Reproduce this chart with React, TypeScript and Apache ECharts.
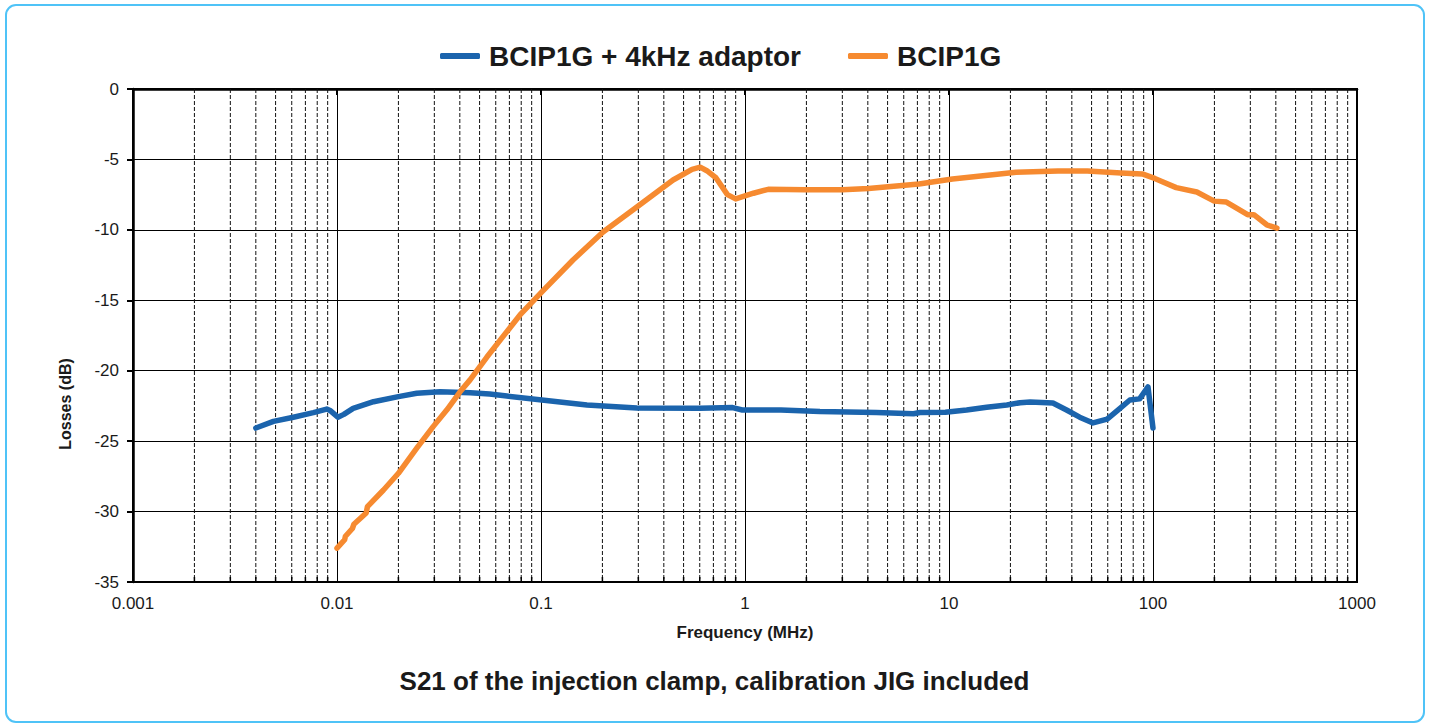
import React, { useEffect, useRef } from "react";
import * as echarts from "echarts";

const seriesNames = ["BCIP1G + 4kHz adaptor", "BCIP1G"];

const blueFreq = [0.004, 0.00488, 0.00611, 0.00766, 0.0089, 0.0093, 0.0101, 0.0108, 0.012, 0.0151, 0.02, 0.0246, 0.032, 0.045, 0.056, 0.068, 0.101, 0.168, 0.295, 0.6, 0.87, 0.97, 1.5, 2.33, 4.4, 6.7, 7.2, 9.6, 12.2, 15.3, 19.2, 22.3, 25, 32.3, 37.7, 43.7, 50.8, 59.6, 68.9, 77, 86, 94.5, 100];
const blueLoss = [-24.07, -23.6, -23.3, -22.98, -22.72, -22.85, -23.3, -23.1, -22.67, -22.2, -21.84, -21.6, -21.49, -21.56, -21.65, -21.8, -22.08, -22.43, -22.65, -22.67, -22.62, -22.79, -22.79, -22.9, -22.97, -23.06, -22.97, -22.95, -22.79, -22.6, -22.43, -22.27, -22.22, -22.29, -22.79, -23.3, -23.71, -23.43, -22.67, -22.08, -22.0, -21.15, -24.07];

const orangeFreq = [0.01, 0.0109, 0.011, 0.0119, 0.0121, 0.0139, 0.0141, 0.0169, 0.02, 0.0246, 0.0296, 0.0345, 0.0401, 0.0449, 0.0543, 0.0789, 0.101, 0.1435, 0.2015, 0.295, 0.444, 0.55, 0.603, 0.65, 0.72, 0.82, 0.9, 1.1, 1.3, 1.98, 3.0, 4.03, 7.12, 10.4, 21.3, 34.2, 47.7, 69.7, 88.6, 102, 130, 164, 199.5, 229, 291, 312, 361, 405];
const orangeLoss = [-32.6, -32.0, -31.75, -31.2, -30.9, -30.1, -29.65, -28.47, -27.28, -25.5, -23.97, -22.79, -21.5, -20.65, -19.03, -16.04, -14.4, -12.14, -10.15, -8.38, -6.46, -5.7, -5.55, -5.8, -6.3, -7.5, -7.8, -7.4, -7.12, -7.16, -7.15, -7.07, -6.75, -6.39, -5.91, -5.82, -5.82, -5.96, -6.03, -6.35, -7.0, -7.31, -7.96, -8.03, -8.92, -8.92, -9.64, -9.88];

const decades = [0.001, 0.01, 0.1, 1, 10, 100];
const minorSteps = [2, 3, 4, 5, 6, 7, 8, 9];

const FONT = "'Liberation Sans', Arial, sans-serif";
const TXT = "#1a1a1a";

export default function App() {
  const ref = useRef<HTMLDivElement>(null);
  useEffect(() => {
    document.body.style.margin = "0";
    const chart = echarts.init(ref.current!, null, { renderer: "svg" });
    const minor: number[][] = [];
    decades.forEach((d) => minorSteps.forEach((m) => minor.push([parseFloat((d * m).toPrecision(6)), -35])));
    const fmt = (v: number) => String(parseFloat(Number(v).toPrecision(6)));
    chart.setOption({
      animation: false,
      textStyle: { fontFamily: FONT },
      title: {
        text: "S21 of the injection clamp, calibration JIG included",
        left: "center",
        top: 663,
        textStyle: { fontFamily: FONT, fontSize: 26, fontWeight: "bold", color: TXT },
      },
      legend: {
        data: seriesNames,
        left: 435,
        top: 37,
        icon: "roundRect",
        itemWidth: 40,
        itemHeight: 6,
        itemGap: 47,
        textStyle: { fontFamily: FONT, fontSize: 28, fontWeight: "bold", color: TXT, padding: [0, 0, 0, 4] },
      },
      grid: { left: 133, right: 72, top: 89, bottom: 145, show: true, borderColor: "#000", borderWidth: 2 },
      xAxis: {
        type: "log",
        logBase: 10,
        min: 0.001,
        max: 1000,
        interval: 1,
        name: "Frequency (MHz)",
        nameLocation: "middle",
        nameGap: 42,
        nameTextStyle: { fontFamily: FONT, fontSize: 17, fontWeight: "bold", color: TXT },
        axisLine: { show: true, lineStyle: { color: "#000", width: 2.5 } },
        axisTick: { show: true, length: 6, lineStyle: { color: "#000", width: 2 } },
        axisLabel: { fontFamily: FONT, fontSize: 17, color: TXT, margin: 13, formatter: fmt },
        splitLine: { show: true, lineStyle: { color: "#000", width: 1 } },
      },
      yAxis: {
        type: "value",
        min: -35,
        max: 0,
        interval: 5,
        axisLine: { show: true, lineStyle: { color: "#000", width: 2.5 } },
        axisTick: { show: true, length: 6, lineStyle: { color: "#000", width: 2 } },
        axisLabel: { fontFamily: FONT, fontSize: 17, color: TXT, margin: 14 },
        splitLine: { show: true, lineStyle: { color: "#000", width: 1 } },
      },
      graphic: [
        {
          type: "rect",
          shape: { x: 6, y: 5, width: 1418, height: 717, r: 10 },
          style: { fill: "none", stroke: "#4fc3f7", lineWidth: 2 },
          silent: true,
        },
        {
          type: "text",
          x: 65,
          y: 404,
          rotation: Math.PI / 2,
          style: {
            text: "Losses (dB)",
            fontFamily: FONT,
            fontSize: 16,
            fontWeight: "bold",
            fill: TXT,
            align: "center",
            verticalAlign: "middle",
          },
        },
      ],
      series: [
        {
          type: "custom",
          name: "minorGrid",
          silent: true,
          z: 1,
          data: minor,
          renderItem: (params: any, api: any) => {
            const f = api.value(0);
            const top = api.coord([f, 0]);
            const bot = api.coord([f, -35]);
            return {
              type: "group",
              children: [
                {
                  type: "line",
                  shape: { x1: top[0], y1: top[1], x2: bot[0], y2: bot[1] },
                  style: { stroke: "#111", lineWidth: 1, lineDash: [4, 2] },
                },
                {
                  type: "line",
                  shape: { x1: bot[0], y1: bot[1], x2: bot[0], y2: bot[1] - 5 },
                  style: { stroke: "#000", lineWidth: 1.5 },
                },
              ],
            };
          },
        },
        {
          type: "line",
          name: seriesNames[0],
          z: 3,
          showSymbol: false,
          data: blueFreq.map((f, i) => [f, blueLoss[i]]),
          lineStyle: { color: "#1b64ad", width: 5.5, cap: "round", join: "round" },
          itemStyle: { color: "#1b64ad" },
        },
        {
          type: "line",
          name: seriesNames[1],
          z: 4,
          showSymbol: false,
          data: orangeFreq.map((f, i) => [f, orangeLoss[i]]),
          lineStyle: { color: "#f68a30", width: 5.5, cap: "round", join: "round" },
          itemStyle: { color: "#f68a30" },
        },
      ],
    });
    return () => chart.dispose();
  }, []);
  return <div ref={ref} style={{ width: 1429, height: 727 }} />;
}
